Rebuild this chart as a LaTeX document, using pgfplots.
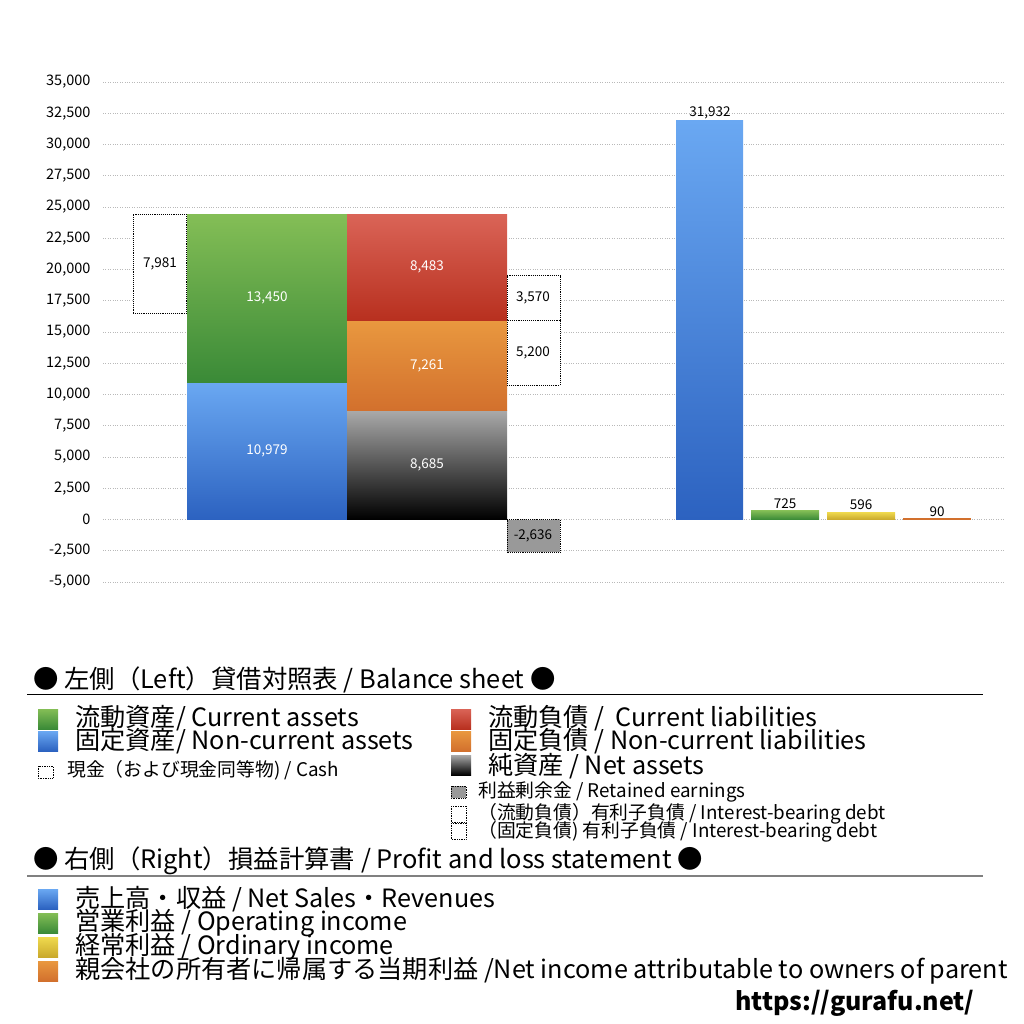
\documentclass[border=0pt]{standalone}
\usepackage{pgfplots}
\pgfplotsset{compat=1.18}
\usepackage{fontspec}
\setmainfont{Noto Sans CJK JP}
\definecolor{bluet}{HTML}{6AA8F2}\definecolor{blueb}{HTML}{2C62C0}
\definecolor{greent}{HTML}{84BE56}\definecolor{greenb}{HTML}{3A8A37}
\definecolor{redt}{HTML}{DA6457}\definecolor{redb}{HTML}{B8301F}
\definecolor{orat}{HTML}{E9983F}\definecolor{orab}{HTML}{D2702D}
\definecolor{blkt}{HTML}{A9A9A9}\definecolor{blkb}{HTML}{000000}
\definecolor{yelt}{HTML}{F0DA4E}\definecolor{yelb}{HTML}{C9A92C}
\definecolor{retg}{HTML}{999999}
\begin{document}
\begin{tikzpicture}[x=1pt,y=1pt]
\useasboundingbox (0,0) rectangle (1024,-1024);
\begin{axis}[at={(103pt,-582pt)}, anchor=south west, scale only axis,
  width=902pt, height=500pt, xmin=103, xmax=1005, ymin=-5000, ymax=35000,
  ytick distance=2500, scaled y ticks=false, xtick=\empty,
  axis line style={draw=none}, major tick length=0pt,
  ymajorgrids, grid style={gray!55, dotted, line width=0.7pt},
  yticklabel style={font=\fontsize{14.5}{16}\selectfont, anchor=east, xshift=-9pt,
    /pgf/number format/.cd, fixed, precision=0, 1000 sep={,}, assume math mode=true},
  clip=false]
% Balance sheet
\addplot[draw=none, top color=bluet, bottom color=blueb] coordinates {(187,0) (347,0) (347,10979) (187,10979)} -- cycle;
\addplot[draw=none, top color=greent, bottom color=greenb] coordinates {(187,10979) (347,10979) (347,24429) (187,24429)} -- cycle;
\addplot[draw=none, top color=blkt, bottom color=blkb] coordinates {(347,0) (507,0) (507,8685) (347,8685)} -- cycle;
\addplot[draw=none, top color=orat, bottom color=orab] coordinates {(347,8685) (507,8685) (507,15946) (347,15946)} -- cycle;
\addplot[draw=none, top color=redt, bottom color=redb] coordinates {(347,15946) (507,15946) (507,24429) (347,24429)} -- cycle;
% dotted boxes
\addplot[black, densely dotted, line width=0.9pt, fill=white] coordinates {(133,16448) (186,16448) (186,24429) (133,24429)} -- cycle;
\addplot[black, densely dotted, line width=0.9pt, fill=white] coordinates {(507,15946) (560,15946) (560,19516) (507,19516)} -- cycle;
\addplot[black, densely dotted, line width=0.9pt, fill=white] coordinates {(507,10746) (560,10746) (560,15946) (507,15946)} -- cycle;
\addplot[black, densely dotted, line width=0.9pt, fill=retg] coordinates {(507,0) (560,0) (560,-2636) (507,-2636)} -- cycle;
% Profit and loss
\addplot[draw=none, top color=bluet, bottom color=blueb] coordinates {(676,0) (743,0) (743,31932) (676,31932)} -- cycle;
\addplot[draw=none, top color=greent, bottom color=greenb] coordinates {(751,0) (819,0) (819,725) (751,725)} -- cycle;
\addplot[draw=none, top color=yelt, bottom color=yelb] coordinates {(827,0) (895,0) (895,596) (827,596)} -- cycle;
\addplot[draw=none, fill=orab] coordinates {(903,0) (971,0) (971,90) (903,90)} -- cycle;
% labels
\begin{scope}[every node/.style={font=\fontsize{13.5}{15}\selectfont}]
\node at (axis cs:160,20438) {7,981};
\node[white] at (axis cs:267,17704) {13,450};
\node[white] at (axis cs:267,5490) {10,979};
\node[white] at (axis cs:427,20188) {8,483};
\node[white] at (axis cs:427,12316) {7,261};
\node[white] at (axis cs:427,4342) {8,685};
\node at (axis cs:533,17731) {3,570};
\node at (axis cs:533,13346) {5,200};
\node at (axis cs:533,-1318) {-2,636};
\node[anchor=south, inner sep=1pt] at (axis cs:710,31932) {31,932};
\node[anchor=south, inner sep=2pt] at (axis cs:785,725) {725};
\node[anchor=south, inner sep=2pt] at (axis cs:861,596) {596};
\node[anchor=south, inner sep=2pt] at (axis cs:937,90) {90};
\end{scope}
\end{axis}
% Legend
\def\big{\fontsize{25.2}{27}\selectfont}
\def\sml{\fontsize{18.8}{20}\selectfont}
\node[anchor=west, inner sep=0pt, font=\fontsize{25.4}{27}\selectfont] at (33,-680) {● 左側（Left）貸借対照表 / Balance sheet ●};
\draw[black, line width=1pt] (27,-694) -- (983,-694);
\shade[top color=greent, bottom color=greenb] (38,-709) rectangle (58,-729);
\node[anchor=west, inner sep=0pt, font=\big] at (75,-718) {流動資産/ Current assets};
\shade[top color=bluet, bottom color=blueb] (38,-731) rectangle (58,-751);
\node[anchor=west, inner sep=0pt, font=\big] at (75,-741) {固定資産/ Non-current assets};
\draw[densely dotted, line width=0.7pt] (38,-766) rectangle (53,-778);
\node[anchor=west, inner sep=0pt, font=\sml] at (67,-770) {現金（および現金同等物) / Cash};
\shade[top color=redt, bottom color=redb] (451,-709) rectangle (471,-729);
\node[anchor=west, inner sep=0pt, font=\big] at (488,-718) {流動負債 /\ \ Current liabilities};
\shade[top color=orat, bottom color=orab] (451,-731) rectangle (471,-751);
\node[anchor=west, inner sep=0pt, font=\big] at (488,-741) {固定負債 / Non-current liabilities};
\shade[top color=blkt, bottom color=blkb] (451,-755) rectangle (471,-775);
\node[anchor=west, inner sep=0pt, font=\big] at (488,-766) {純資産 / Net assets};
\filldraw[fill=retg, densely dotted, line width=0.7pt] (451,-786) rectangle (466,-798);
\node[anchor=west, inner sep=0pt, font=\sml] at (478,-792) {利益剰余金 / Retained earnings};
\draw[densely dotted, line width=0.7pt] (451,-806) rectangle (466,-822);
\node[anchor=west, inner sep=0pt, font=\sml] at (478,-814) {（流動負債）有利子負債 / Interest-bearing debt};
\draw[densely dotted, line width=0.7pt] (451,-823) rectangle (466,-839);
\node[anchor=west, inner sep=0pt, font=\sml] at (478,-832) {（固定負債) 有利子負債 / Interest-bearing debt};
\node[anchor=west, inner sep=0pt, font=\fontsize{25.4}{27}\selectfont] at (33,-861) {● 右側（Right）損益計算書 / Profit and loss statement ●};
\draw[gray, line width=1.2pt] (27,-876) -- (983,-876);
\shade[top color=bluet, bottom color=blueb] (38,-889) rectangle (58,-909);
\node[anchor=west, inner sep=0pt, font=\big] at (75,-899) {売上高・収益 / Net Sales・Revenues};
\shade[top color=greent, bottom color=greenb] (38,-913) rectangle (58,-933);
\node[anchor=west, inner sep=0pt, font=\big] at (75,-923) {営業利益 / Operating income};
\shade[top color=yelt, bottom color=yelb] (38,-937) rectangle (58,-957);
\node[anchor=west, inner sep=0pt, font=\big] at (75,-947) {経常利益 / Ordinary income};
\shade[top color=orat, bottom color=orab] (38,-961) rectangle (58,-981);
\node[anchor=west, inner sep=0pt, font=\big] at (75,-971) {親会社の所有者に帰属する当期利益 /Net income attributable to owners of parent};
\node[anchor=west, inner sep=0pt, font=\fontsize{25}{27}\selectfont\bfseries] at (735,-1003) {https://gurafu.net/};
\end{tikzpicture}
\end{document}
